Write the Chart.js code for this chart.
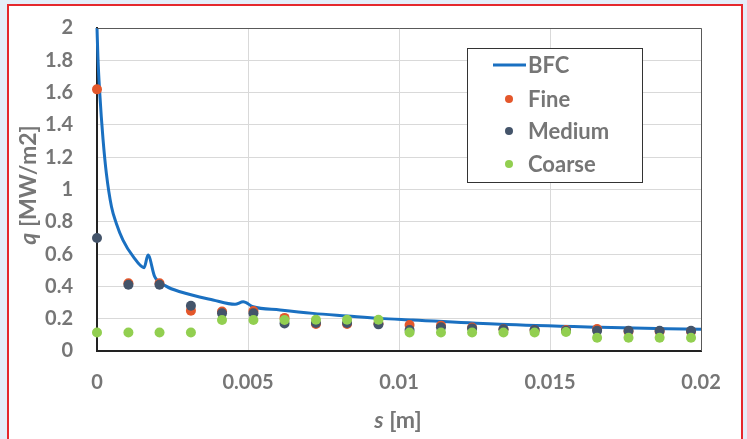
<!DOCTYPE html>
<html>
<head>
<meta charset="utf-8">
<script src="https://cdn.jsdelivr.net/npm/chart.js@4.4.1/dist/chart.umd.min.js"></script>
<style>
    html, body { margin: 0; padding: 0; }
    body { width: 747px; height: 439px; background: #e4eef9; position: relative; overflow: hidden; }
    #frame { position: absolute; left: 7px; top: 4px; width: 732px; height: 440px; border: 2px solid #e5282d; background: #fff; }
    #wrap { position: absolute; left: 0; top: 0; width: 747px; height: 439px; }
</style>
</head>
<body>
<div id="frame"></div>
<div id="wrap"><canvas id="chart" width="747" height="439"></canvas></div>
<script>
// BFC curve (s [m], q [MW/m2])
const bfcS = [0, 0.00003, 0.00009, 0.0002, 0.00031, 0.00048, 0.00064, 0.00086, 0.0012, 0.00156, 0.00169, 0.00191,
    0.0023, 0.00275, 0.00384, 0.00457, 0.00484, 0.00517, 0.00606, 0.00715, 0.00828, 0.00937, 0.01046,
    0.01334, 0.01666, 0.02];
const bfcQ = [2.0, 1.82, 1.6, 1.31, 1.1, 0.893, 0.79, 0.687, 0.584, 0.516, 0.594, 0.46,
    0.40, 0.367, 0.316, 0.289, 0.305, 0.274, 0.254, 0.233, 0.217, 0.202, 0.192,
    0.165, 0.147, 0.134];

// mesh results, same s positions for all three
const meshS = [0, 0.00104, 0.00207, 0.00311, 0.00414, 0.00518, 0.00621, 0.00725, 0.00828, 0.00932,
    0.01035, 0.01139, 0.01242, 0.01346, 0.01449, 0.01553, 0.01656, 0.0176, 0.01863, 0.01967];
const fine = [1.62, 0.42, 0.42, 0.25, 0.245, 0.248, 0.205, 0.167, 0.167, 0.17,
    0.161, 0.157, 0.145, 0.135, 0.13, 0.13, 0.136, 0.12, 0.12, 0.12];
const medium = [0.70, 0.41, 0.41, 0.28, 0.233, 0.233, 0.171, 0.173, 0.173, 0.165,
    0.13, 0.147, 0.14, 0.134, 0.13, 0.125, 0.126, 0.126, 0.125, 0.125];
const coarse = [0.115, 0.115, 0.115, 0.115, 0.192, 0.192, 0.192, 0.194, 0.194, 0.194,
    0.115, 0.115, 0.115, 0.115, 0.115, 0.118, 0.082, 0.082, 0.082, 0.082];

const xTicks = ['0', '0.005', '0.01', '0.015', '0.02'];
const yTicks = ['0', '0.2', '0.4', '0.6', '0.8', '1', '1.2', '1.4', '1.6', '1.8', '2'];

const seriesNames = ['BFC', 'Fine', 'Medium', 'Coarse'];
const seriesColors = ['#1a70c1', '#e4572b', '#44546a', '#92cf50'];

const FONT = 'Lato, "Open Sans", sans-serif';
const TXT = '#767676';

const toPts = (xs, ys) => xs.map((x, i) => ({ x: x, y: ys[i] }));

// top/right plot border + custom legend + mixed italic axis titles
const decor = {
    id: 'decor',
    afterDraw(chart) {
        const ctx = chart.ctx;
        const a = chart.chartArea;
        ctx.save();
        ctx.strokeStyle = '#595959';
        ctx.lineWidth = 1;
        ctx.beginPath();
        ctx.moveTo(a.left, a.top + 0.5);
        ctx.lineTo(a.right + 0.5, a.top + 0.5);
        ctx.lineTo(a.right + 0.5, a.bottom);
        ctx.stroke();

        // legend box
        ctx.fillStyle = '#fff';
        ctx.fillRect(467, 48, 175, 134);
        ctx.strokeStyle = '#333';
        ctx.strokeRect(467.5, 48.5, 175, 134);
        const rows = [65, 99, 131, 164];
        ctx.font = 'bold 22px ' + FONT;
        ctx.textBaseline = 'middle';
        rows.forEach((y, i) => {
            if (i === 0) {
                ctx.strokeStyle = seriesColors[0];
                ctx.lineWidth = 3;
                ctx.beginPath();
                ctx.moveTo(493, y);
                ctx.lineTo(526, y);
                ctx.stroke();
            } else {
                ctx.fillStyle = seriesColors[i];
                ctx.beginPath();
                ctx.arc(509, y, 4, 0, Math.PI * 2);
                ctx.fill();
            }
            ctx.fillStyle = TXT;
            ctx.textAlign = 'left';
            ctx.fillText(seriesNames[i], 528, y + 1);
        });

        // axis titles
        drawTitle(ctx, 's', ' [m]', 398, 421, 0);
        drawTitle(ctx, 'q', ' [MW/m2]', 29, 185, -Math.PI / 2);
        ctx.restore();
    }
};

function drawTitle(ctx, it, rest, cx, cy, rot) {
    ctx.save();
    ctx.translate(cx, cy);
    ctx.rotate(rot);
    ctx.fillStyle = TXT;
    ctx.textBaseline = 'middle';
    ctx.textAlign = 'left';
    const fI = 'italic bold 23px ' + FONT;
    const fN = 'bold 23px ' + FONT;
    ctx.font = fI;
    const w1 = ctx.measureText(it).width;
    ctx.font = fN;
    const w2 = ctx.measureText(rest).width;
    const x0 = -(w1 + w2) / 2;
    ctx.font = fI;
    ctx.fillText(it, x0, 0);
    ctx.font = fN;
    ctx.fillText(rest, x0 + w1, 0);
    ctx.restore();
}

new Chart(document.getElementById('chart'), {
    type: 'scatter',
    data: {
        datasets: [
            { label: seriesNames[0], data: toPts(bfcS, bfcQ), showLine: true, borderColor: seriesColors[0],
              borderWidth: 3, pointRadius: 0, cubicInterpolationMode: 'monotone', order: 4 },
            { label: seriesNames[1], data: toPts(meshS, fine), backgroundColor: seriesColors[1],
              borderWidth: 0, pointRadius: 5, order: 3 },
            { label: seriesNames[2], data: toPts(meshS, medium), backgroundColor: seriesColors[2],
              borderWidth: 0, pointRadius: 5, order: 2 },
            { label: seriesNames[3], data: toPts(meshS, coarse), backgroundColor: seriesColors[3],
              borderWidth: 0, pointRadius: 5, order: 1 }
        ]
    },
    options: {
        responsive: false,
        animation: false,
        clip: false,
        layout: { padding: { top: 28, right: 46, left: 0, bottom: 0 } },
        plugins: { legend: { display: false }, tooltip: { enabled: false } },
        scales: {
            x: {
                type: 'linear', min: 0, max: 0.02,
                afterBuildTicks: s => { s.ticks = xTicks.map(v => ({ value: parseFloat(v) })); },
                afterFit: s => { s.height = 88; s.paddingLeft = 0; s.paddingRight = 0; },
                ticks: {
                    callback: (v, i) => xTicks[i], maxRotation: 0, minRotation: 0, autoSkip: false,
                    color: TXT, font: { family: FONT, size: 20, weight: 'bold' }, padding: 20
                },
                grid: { color: '#d9d9d9', lineWidth: 1, drawTicks: false },
                border: { color: '#222', width: 2 }
            },
            y: {
                type: 'linear', min: 0, max: 2,
                afterBuildTicks: s => { s.ticks = yTicks.map(v => ({ value: parseFloat(v) })); },
                afterFit: s => { s.width = 97; s.paddingTop = 0; s.paddingBottom = 0; },
                ticks: {
                    callback: (v, i) => yTicks[i], autoSkip: false,
                    color: TXT, font: { family: FONT, size: 20, weight: 'bold' }, padding: 24
                },
                grid: { color: '#d9d9d9', lineWidth: 1, drawTicks: false },
                border: { color: '#222', width: 2 }
            }
        }
    },
    plugins: [decor]
});
</script>
</body>
</html>
